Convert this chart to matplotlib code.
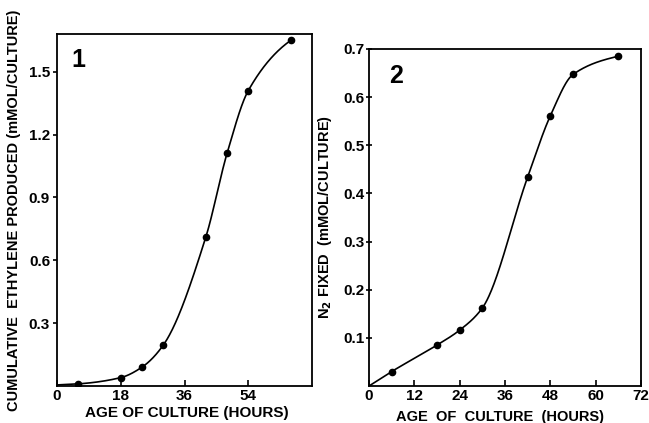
import numpy as np
import matplotlib
matplotlib.use("Agg")
import matplotlib.pyplot as plt

# ---- data ----
hours1 = [6, 18, 24, 30, 42, 48, 54, 66]
ethylene = [0.01, 0.04, 0.09, 0.195, 0.71, 1.11, 1.41, 1.65]
curve1_start = (0, 0.005)

hours2 = [6, 18, 24, 30, 42, 48, 54, 66]
n2_fixed = [0.030, 0.085, 0.116, 0.162, 0.434, 0.561, 0.647, 0.685]
curve2_start = (0, 0.0)

xticks1 = [0, 18, 36, 54]
yticks1 = [0.3, 0.6, 0.9, 1.2, 1.5]
xticks2 = [0, 12, 24, 36, 48, 60, 72]
yticks2 = [0.1, 0.2, 0.3, 0.4, 0.5, 0.6, 0.7]


def pchip(x, y, xs):
    x = np.asarray(x, float); y = np.asarray(y, float)
    h = np.diff(x); d = np.diff(y) / h
    n = len(x); m = np.zeros(n)
    for k in range(1, n - 1):
        if d[k - 1] * d[k] > 0:
            w1 = 2 * h[k] + h[k - 1]; w2 = h[k] + 2 * h[k - 1]
            m[k] = (w1 + w2) / (w1 / d[k - 1] + w2 / d[k])
    m[0] = d[0]; m[-1] = d[-1] * 0.6
    out = np.empty_like(xs)
    for i, xv in enumerate(xs):
        k = min(max(np.searchsorted(x, xv) - 1, 0), n - 2)
        t = (xv - x[k]) / h[k]
        h00 = 2 * t**3 - 3 * t**2 + 1; h10 = t**3 - 2 * t**2 + t
        h01 = -2 * t**3 + 3 * t**2; h11 = t**3 - t**2
        out[i] = h00 * y[k] + h10 * h[k] * m[k] + h01 * y[k + 1] + h11 * h[k] * m[k + 1]
    return out


plt.rcParams['font.family'] = ['Liberation Sans', 'DejaVu Sans']
plt.rcParams['font.weight'] = 'bold'

fig = plt.figure(figsize=(6.49, 4.23), dpi=100)
ax1 = fig.add_axes([0.0878, 0.0875, 0.393, 0.832])
ax2 = fig.add_axes([0.5686, 0.0875, 0.419, 0.7967])

for ax, hx, yv, start, xt, yt, xlim, ylim in [
        (ax1, hours1, ethylene, curve1_start, xticks1, yticks1, (0, 72), (0, 1.68)),
        (ax2, hours2, n2_fixed, curve2_start, xticks2, yticks2, (0, 72), (0, 0.7))]:
    kx = [start[0]] + list(hx)
    ky = [start[1]] + list(yv)
    xs = np.linspace(kx[0], kx[-1], 400)
    ax.plot(xs, pchip(kx, ky, xs), color='black', lw=1.2)
    ax.plot(hx, yv, 'o', color='black', ms=4.5)
    ax.set_xlim(*xlim); ax.set_ylim(*ylim)
    ax.set_xticks(xt); ax.set_yticks(yt)
    for s in ax.spines.values():
        s.set_linewidth(1.3)
    ax.tick_params(axis='x', direction='in', length=4, width=1.2, labelsize=11, pad=2)

ax1.set_xticklabels([str(v) for v in xticks1])
ax1.set_yticklabels([f"{v:.1f}" for v in yticks1])
ax1.tick_params(axis='y', direction='out', length=3, width=1.2, labelsize=11, pad=2)
ax2.set_xticklabels([str(v) for v in xticks2])
ax2.set_yticklabels([f"{v:.1f}" for v in yticks2])
ax2.tick_params(axis='y', direction='inout', length=5, width=1.2, labelsize=11, pad=1)
for ax in (ax1, ax2):
    for lab in ax.get_xticklabels() + ax.get_yticklabels():
        lab.set_fontweight('bold')

ax1.set_xlabel("AGE OF CULTURE (HOURS)", fontsize=11, fontweight='bold')
ax1.xaxis.set_label_coords(0.51, -0.058)
ax1.set_ylabel("CUMULATIVE  ETHYLENE PRODUCED (mMOL/CULTURE)", fontsize=10.5, fontweight='bold')
ax1.yaxis.set_label_coords(-0.14, 0.5)

ax2.set_xlabel("AGE  OF  CULTURE  (HOURS)", fontsize=10.5, fontweight='bold')
ax2.xaxis.set_label_coords(0.48, -0.07)
ax2.set_ylabel(r"N$_\mathbf{2}$ FIXED  (mMOL/CULTURE)", fontsize=10.5, fontweight='bold')
ax2.yaxis.set_label_coords(-0.128, 0.5)

ax1.text(0.082, 0.926, "1", transform=ax1.transAxes, fontsize=18, fontweight='bold',
         ha='center', va='center')
ax2.text(0.099, 0.921, "2", transform=ax2.transAxes, fontsize=18, fontweight='bold',
         ha='center', va='center')

fig.savefig("out.png", dpi=100)
